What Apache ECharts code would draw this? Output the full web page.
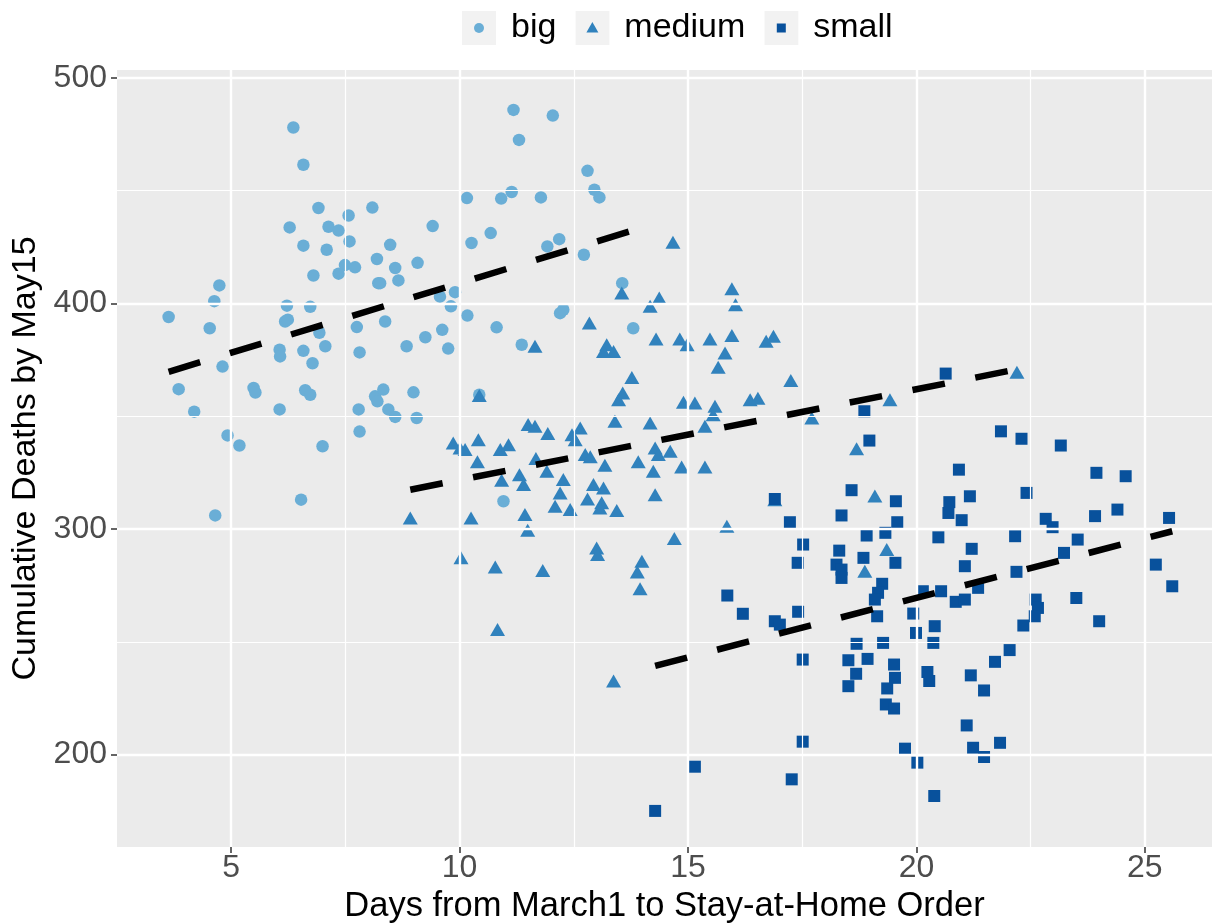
<!DOCTYPE html>
<html>
<head>
<meta charset="utf-8">
<script src="https://cdn.jsdelivr.net/npm/echarts@6/dist/echarts.min.js"></script>
<style>
html,body{margin:0;padding:0;background:#fff;}
#chart{width:1217px;height:923px;}
</style>
</head>
<body>
<div id="chart"></div>
<script>
// ---------- data ----------
const seriesNames = ['big', 'medium', 'small'];

const bigData = [
[3.63,394],[3.85,362],[4.19,352],[4.53,389],[4.63,401],[4.74,408],[4.81,372],[4.92,341.5],[5.18,337],[4.65,306],
[5.49,362.5],[5.53,360.5],[6.06,353],[6.22,399],[6.73,398.5],[6.18,392],[6.24,392.8],[6.06,379.5],[6.07,376.5],[6.58,379],
[6.78,373.5],[7.06,381],[6.93,387],[6.62,361.5],[6.73,359.5],[6.53,313],[7.0,336.7],[7.75,389.5],[8.37,392],[7.81,378.3],
[8.84,381],[8.15,358.8],[8.2,356.6],[8.33,361.8],[8.99,360.6],[7.79,353],[8.44,353],[8.59,349.7],[9.06,349.2],[7.81,343.2],
[6.36,478],[6.58,461.5],[6.91,442.3],[7.57,439],[8.09,442.5],[6.28,433.7],[7.13,434],[7.35,432.3],[7.59,427.5],[6.58,425.6],
[7.09,423.8],[8.19,419.7],[7.49,417],[7.71,416],[7.35,413.2],[6.8,412.4],[8.22,409],
[11.18,485.8],[12.04,483.3],[11.3,472.5],[12.8,458.8],[12.95,450.4],[13.06,447],[10.16,446.7],[10.91,446.5],[11.14,449.4],[11.78,447],
[9.41,434.3],[10.68,431.2],[10.26,426.8],[8.48,426],[11.92,425.3],[12.18,428.5],[12.72,421.6],[8.59,415.7],[9.08,418],[8.66,410.2],
[8.26,409],[9.57,403],[9.9,405],[9.81,398.7],[10.17,394.6],[10.81,389.4],[9.25,385],[9.62,388.3],[9.75,380],[11.36,381.7],
[12.2,395.7],[12.27,397.2],[13.56,409],[13.8,389],[10.43,359.5],[10.96,312.3]
];

const mediumData = [
[14.67,427.1],[13.55,404.6],[14.37,402.4],[14.17,398.7],[12.84,391.3],[14.3,384.2],[14.82,384.2],[14.98,381.7],[13.22,381.7],[13.37,378.7],
[13.15,378.7],[11.65,381],[13.77,367.2],[13.57,360.3],[13.48,357.3],[14.9,356.2],[15.15,355.9],[10.43,359.2],[13.4,347.8],[14.17,347],
[11.5,346.3],[11.65,345.5],[12.64,344.8],[12.46,341.8],[12.53,339.6],[11.93,342.3],[9.86,338.1],[10.01,335.9],[10.12,335.2],[10.41,339.6],
[10.89,335.2],[11.07,337.4],[10.39,329.8],[11.67,331.3],[12.75,333],[12.86,332],[13.18,328.3],[13.91,329.8],[14.28,335.9],[14.35,333],
[14.61,334.5],[14.86,327.5],[14.24,325.6],[11.31,324.1],[12.27,321.9],[10.92,321.6],[11.91,325.6],[11.4,319.7],[12.2,316],[12.09,310.1],
[12.42,308.6],[12.93,319.7],[13.15,318.2],[12.8,313.3],[13.11,311.6],[13.07,309.3],[13.44,308.2],[14.28,315.2],[8.92,304.9],[10.25,304.9],
[11.43,306.4],[11.49,299.4],[10.03,287.2],[10.78,283.1],[11.82,281.6],[13.0,291.6],[13.02,288.7],[13.99,285.7],[13.89,280.9],[13.95,273.5],
[14.7,295.8],[10.83,255.4],[13.37,232.6],
[15.96,406.5],[16.04,399.4],[15.48,384.2],[15.96,385.8],[16.71,383.2],[16.87,385.4],[15.81,378],[15.66,371.7],[17.25,365.8],[16.36,357.3],
[16.53,358],[15.59,354.4],[15.55,350.7],[15.37,345.5],[17.71,349.2],[15.37,327.5],[18.69,335.6],[19.42,357.3],[19.09,314.6],[16.9,313],
[15.85,301.2],[19.35,290.9],[18.87,281.3],[22.2,369.5]
];

const smallData = [
[18.58,317.2],[19.55,312.3],[18.36,306],[17.23,303],[19.58,303],[18.91,297.1],[19.32,298.3],[17.52,293.1],[18.31,290.4],[18.84,287.2],
[19.54,285],[17.4,285],[18.25,284.2],[18.36,282],[18.36,278.3],[19.25,275.7],[19.16,271.7],[19.09,268.7],[19.14,261.3],[15.86,270.5],
[16.2,262.4],[16.9,259.1],[17.01,257.6],[17.41,263.3],[19.93,262.5],[20.4,256.9],[20.37,249.5],[19.99,253.9],[18.69,249.1],[19.27,249.5],
[17.51,242.1],[18.51,241.8],[18.93,242.4],[18.68,235.8],[18.51,230.3],[19.51,239.9],[19.53,234],[19.36,229.3],[19.33,222.2],[19.51,220.4],
[20.24,236.6],[20.28,232.6],[17.51,205.7],[19.75,202.6],[20.02,196.4],[15.15,194.6],[17.27,189],[14.28,175],[20.39,181.6],
[21.85,343.3],[22.3,340],[23.16,337],[20.93,326.3],[23.94,324.9],[24.58,323.4],[22.41,316],[21.17,314.5],[20.72,311.9],[20.7,307.1],
[20.99,303.9],[23.91,305.7],[24.4,308.6],[25.53,304.9],[22.83,304.5],[22.98,300.8],[20.48,296.3],[22.16,296.8],[23.53,295.3],[21.21,291.2],
[23.23,289.4],[21.06,283.5],[22.19,281],[25.24,284.2],[25.6,274.6],[21.35,273.9],[20.86,267.7],[21.06,268.7],[20.54,272.4],[20.14,272.4],
[22.61,268.7],[22.66,265],[22.59,261.3],[22.34,257.2],[23.5,269.4],[24.0,259.1],[22.04,246.3],[21.72,241.1],[21.19,235.1],[21.48,228.4],
[21.1,212.9],[21.83,205.2],[21.24,203],[21.48,198.9],[20.64,368.9],[18.86,352.2],[18.97,339.2],[16.9,313.3]
];

// fitted (linear) trend lines: [start, end]
const bigFit = [[3.63, 369.7], [13.8, 432.4]];
const mediumFit = [[8.92, 317.4], [22.2, 370.8]];
const smallFit = [[14.28, 239.3], [25.6, 299.0]];

// axis ticks / grid values
const xMajor = [5, 10, 15, 20, 25];
const xMinor = [7.5, 12.5, 17.5, 22.5];
const yMajor = [200, 300, 400, 500];
const yMinor = [250, 350, 450];

const xTitle = 'Days from March1 to Stay-at-Home Order';
const yTitle = 'Cumulative Deaths by May15';

// ---------- styling ----------
const colors = { big: '#6AAED6', medium: '#3182BD', small: '#08519C' };
const panelBg = '#EBEBEB';
const FONT = '"Liberation Sans", Arial, Helvetica, sans-serif';

function keyIcon(shape, color) {
  let sym = '';
  if (shape === 'circle') sym = `<circle cx="17" cy="17" r="5" fill="${color}"/>`;
  if (shape === 'triangle') sym = `<polygon points="17,11 23,21.5 11,21.5" fill="${color}"/>`;
  if (shape === 'square') sym = `<rect x="12.5" y="12.5" width="9" height="9" fill="${color}"/>`;
  const svg = `<svg xmlns="http://www.w3.org/2000/svg" width="44" height="34" viewBox="0 0 44 34"><rect x="0" y="0" width="34" height="34" fill="#F2F2F2"/>${sym}</svg>`;
  return 'image://data:image/svg+xml;charset=utf-8,' + encodeURIComponent(svg);
}

const chart = echarts.init(document.getElementById('chart'), null, { renderer: 'canvas' });

const gridLineSeries = (name, xs, ys, width) => ({
  name: name,
  type: 'scatter',
  data: [],
  silent: true,
  z: 1,
  markLine: {
    silent: true,
    symbol: ['none', 'none'],
    label: { show: false },
    animation: false,
    lineStyle: { color: '#FFFFFF', width: width, type: 'solid', opacity: 1 },
    emphasis: { disabled: true },
    data: xs.map(v => ({ xAxis: v })).concat(ys.map(v => ({ yAxis: v })))
  }
});

const fitSeries = (name, data) => ({
  name: name,
  type: 'line',
  data: data,
  symbol: 'none',
  silent: true,
  z: 5,
  lineStyle: { color: '#000000', width: 6.5, type: [33, 31], cap: 'butt' }
});

const option = {
  animation: false,
  backgroundColor: '#FFFFFF',
  textStyle: { fontFamily: FONT },
  grid: {
    left: 117, right: 5, top: 70, height: 777,
    show: true, backgroundColor: panelBg, borderWidth: 0,
    containLabel: false,
    outerBoundsMode: 'none'
  },
  legend: {
    data: [
      { name: 'big', icon: keyIcon('circle', colors.big) },
      { name: 'medium', icon: keyIcon('triangle', colors.medium) },
      { name: 'small', icon: keyIcon('square', colors.small) }
    ],
    left: 462, top: 11, padding: 0,
    itemWidth: 44, itemHeight: 34, itemGap: 19,
    textStyle: { fontSize: 34, color: '#000000', fontFamily: FONT },
    selectedMode: false
  },
  xAxis: {
    type: 'value',
    min: 2.5, max: 26.47, interval: 2.5,
    axisLine: { show: false },
    splitLine: { show: false },
    axisTick: { show: true, customValues: xMajor, length: 6, lineStyle: { color: '#333333', width: 1.5 } },
    axisLabel: { customValues: xMajor, fontSize: 32, color: '#4D4D4D', margin: 5, fontFamily: FONT },
    name: xTitle, nameLocation: 'middle', nameGap: 39,
    nameTextStyle: { fontSize: 34.5, color: '#000000', fontFamily: FONT }
  },
  yAxis: {
    type: 'value',
    min: 159, max: 503.5,
    axisLine: { show: false },
    splitLine: { show: false },
    axisTick: { show: true, customValues: yMajor, length: 6, lineStyle: { color: '#333333', width: 1.5 } },
    axisLabel: { customValues: yMajor, fontSize: 32, color: '#4D4D4D', margin: 10, fontFamily: FONT },
    name: yTitle, nameLocation: 'middle', nameGap: 66, nameRotate: 90,
    nameTextStyle: { fontSize: 34, color: '#000000', fontFamily: FONT }
  },
  series: [
    gridLineSeries('gridMinor', xMinor, yMinor, 1.2),
    gridLineSeries('gridMajor', xMajor, yMajor, 2.4),
    { name: 'big', type: 'scatter', data: bigData, symbol: 'circle', symbolSize: 12.5, z: 3,
      itemStyle: { color: colors.big, opacity: 1 } },
    { name: 'medium', type: 'scatter', data: mediumData, symbol: 'triangle', symbolSize: [15, 13], z: 3,
      itemStyle: { color: colors.medium, opacity: 1 } },
    { name: 'small', type: 'scatter', data: smallData, symbol: 'rect', symbolSize: 12, z: 3,
      itemStyle: { color: colors.small, opacity: 1 } },
    fitSeries('fitBig', bigFit),
    fitSeries('fitMedium', mediumFit),
    fitSeries('fitSmall', smallFit)
  ]
};

chart.setOption(option);
</script>
</body>
</html>
